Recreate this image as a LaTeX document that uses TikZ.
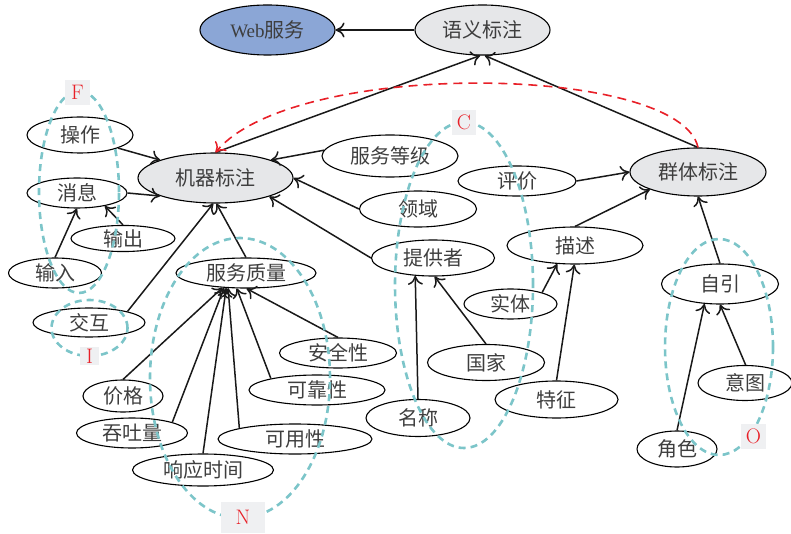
\documentclass[tikz,border=0pt]{standalone}
\usepackage{fontspec}
\newfontfamily\cjk{Noto Sans CJK SC}
\newfontfamily\webfont{Liberation Serif}
\usetikzlibrary{shapes.geometric,arrows.meta}
\definecolor{webblue}{RGB}{139,166,214}
\definecolor{tagfill}{RGB}{230,231,233}
\definecolor{groupteal}{RGB}{124,197,201}
\definecolor{labelbox}{RGB}{239,240,242}
\definecolor{txtgray}{RGB}{62,62,62}
\definecolor{linkred}{RGB}{232,32,40}
\tikzset{
  oval/.style={ellipse, draw=black, line width=1.1pt, inner sep=0pt, text=txtgray,
    font=\fontsize{20}{22}\selectfont\cjk},
  sz/.style 2 args={minimum width=#1pt, minimum height=#2pt},
  tagnode/.style={oval, fill=tagfill},
  arr/.style={draw=black!90, line width=1.5pt,
    -{Computer Modern Rightarrow[length=9pt,width=15pt,line width=1.5pt]}},
  redarr/.style={draw=linkred, line width=1.6pt, dash pattern=on 9pt off 6pt,
    -{Computer Modern Rightarrow[length=9pt,width=15pt,line width=1.5pt]}},
  groupline/.style={draw=groupteal, line width=2.6pt, dash pattern=on 7pt off 5pt},
  grouptag/.style={fill=labelbox, text=linkred, inner sep=0pt, font=\fontsize{21}{21}\selectfont}
}
\begin{document}
\begin{tikzpicture}[x=1pt, y=-1pt]
      \useasboundingbox (0,0) rectangle (791,534);
      \node (web) at (267.5,30) [oval, sz={135}{50}, fill=webblue] {{\webfont\fontsize{19}{22}\selectfont Web}服务};
      \node (yybz) at (482.5,30) [tagnode, sz={135}{50}] {语义标注};
      \node (jqbz) at (215.5,178) [tagnode, sz={155}{50}] {机器标注};
      \node (qtbz) at (698,172) [tagnode, sz={136}{48}] {群体标注};
      \node (caozuo) at (80,135) [oval, sz={106}{36}] {操作};
      \node (xiaoxi) at (77,193) [oval, sz={100}{30}] {消息};
      \node (shuchu) at (123,238.5) [oval, sz={104}{24}] {输出};
      \node (shuru) at (55,273) [oval, sz={93}{30}] {输入};
      \node (jiaohu) at (89,322.5) [oval, sz={112}{29}] {交互};
      \node (fwzl) at (246,273) [oval, sz={140}{30}] {服务质量};
      \node (fwdj) at (390,156) [oval, sz={136}{42}] {服务等级};
      \node (lingyu) at (418,209) [oval, sz={117}{36}] {领域};
      \node (tgz) at (433,258) [oval, sz={123}{36}] {提供者};
      \node (pingjia) at (517,181) [oval, sz={118}{30}] {评价};
      \node (miaoshu) at (575,245.5) [oval, sz={136}{37}] {描述};
      \node (shiti) at (510.5,304) [oval, sz={93}{30}] {实体};
      \node (guojia) at (486,362.5) [oval, sz={117}{36}] {国家};
      \node (tezheng) at (556.5,399.5) [oval, sz={123}{37}] {特征};
      \node (mingcheng) at (418,418) [oval, sz={104}{37}] {名称};
      \node (anquan) at (338,353) [oval, sz={117}{30}] {安全性};
      \node (kekao) at (317,390) [oval, sz={136}{30}] {可靠性};
      \node (keyong) at (295,439) [oval, sz={154}{30}] {可用性};
      \node (jiage) at (123,396) [oval, sz={80}{32}] {价格};
      \node (tuntu) at (132,433) [oval, sz={111}{30}] {吞吐量};
      \node (xiangying) at (203,470) [oval, sz={141}{32}] {响应时间};
      \node (ziyin) at (720,284) [oval, sz={117}{40}] {自引};
      \node (yitu) at (745,383) [oval, sz={94}{35}] {意图};
      \node (juese) at (677,449) [oval, sz={80}{36}] {角色};

      \draw[arr] (yybz) -- (web);
      \draw[arr] (jqbz.north) -- (yybz.-95);
      \draw[arr] (qtbz.north) -- (yybz.-85);
      \draw[redarr] (qtbz.north) .. controls (680,64) and (294,58) .. (jqbz.north);
      \draw[arr] (caozuo.-19) -- (jqbz.162);
      \draw[arr] (xiaoxi.east) -- (jqbz.-162);
      \draw[arr] (shuchu.north) -- (xiaoxi.-25);
      \draw[arr] (shuru.north) -- (xiaoxi.south);
      \draw[arr] (jiaohu.16) -- (jqbz.-95);
      \draw[arr] (fwzl.north) -- (jqbz.-88);
      \draw[arr] (fwdj.175) -- (jqbz.18);
      \draw[arr] (lingyu.west) -- (jqbz.east);
      \draw[arr] (tgz.west) -- (jqbz.-19);
      \draw[arr] (pingjia.east) -- (qtbz.west);
      \draw[arr] (miaoshu.north) -- (qtbz.-160);
      \draw[arr] (shiti.20) -- (miaoshu.-134);
      \draw[arr] (tezheng.north) -- (miaoshu.-92);
      \draw[arr] (guojia.north) -- (tgz.-85);
      \draw[arr] (mingcheng.north) -- (tgz.-135);
      \draw[arr] (ziyin.north) -- (qtbz.south);
      \draw[arr] (juese.north) -- (ziyin.-128);
      \draw[arr] (yitu.88) -- (ziyin.south);
      \draw[arr] (jiage.north) -- (fwzl.-148);
      \draw[arr] (tuntu.15) -- (fwzl.-146);
      \draw[arr] (xiangying.north) -- (fwzl.-143);
      \draw[arr] (keyong.169) -- (fwzl.-140);
      \draw[arr] (kekao.166) -- (fwzl.-121);
      \draw[arr] (anquan.north) -- (fwzl.-88);

      \begin{scope}[groupline]
        \draw (79,192) ellipse (40pt and 101pt);
        \draw (89.5,328) ellipse (38pt and 28pt);
        \draw (240,378) ellipse (90pt and 140pt);
        \draw (464,285) ellipse (69pt and 163pt);
        \draw (719,347) ellipse (54pt and 108pt);
      \end{scope}
      \node (labF) at (77.5,92.5) [grouptag, minimum width=25pt, minimum height=25pt] {F};
      \node (labI) at (89.5,356) [grouptag, minimum width=19pt, minimum height=18pt] {I};
      \node (labN) at (243,517.5) [grouptag, minimum width=44pt, minimum height=31pt] {N};
      \node (labC) at (464,122.5) [grouptag, minimum width=24pt, minimum height=25pt] {C};
      \node (labO) at (753.5,436.5) [grouptag, minimum width=25pt, minimum height=25pt] {O};
    \end{tikzpicture}
\end{document}
